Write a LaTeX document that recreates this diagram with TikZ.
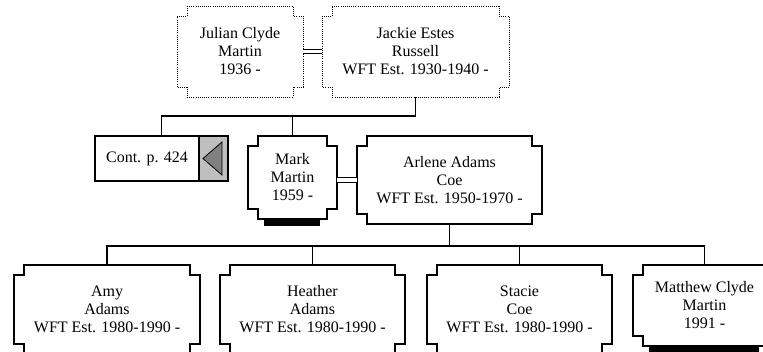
\documentclass[tikz,border=0pt]{standalone}
\usepackage{fontspec}
\setmainfont{Liberation Serif}
\usetikzlibrary{positioning,calc}
\tikzset{
  person/.style 2 args={minimum width=#1*0.75pt,minimum height=#2*0.75pt,inner sep=0pt,outer sep=0pt,align=center},
  outline/.style={line width=1.4pt},
  ghost/.style={line width=0.6pt,densely dotted},
  wed/.style={double,double distance=2.6pt,line width=0.6pt},
  kin/.style={line width=1.4pt},
}
% frame with cut-in corners round a named node
\newcommand\famframe[2]{\draw[#1] let \p1=(#2.north west),\p2=(#2.south east) in
  (\x1+7.5pt,\y1) -- (\x2-7.5pt,\y1) -- (\x2-7.5pt,\y1-7.5pt) -- (\x2,\y1-7.5pt) -- (\x2,\y2+7.5pt)
  -- (\x2-7.5pt,\y2+7.5pt) -- (\x2-7.5pt,\y2) -- (\x1+7.5pt,\y2) -- (\x1+7.5pt,\y2+7.5pt)
  -- (\x1,\y2+7.5pt) -- (\x1,\y1-7.5pt) -- (\x1+7.5pt,\y1-7.5pt) -- cycle;}

\begin{document}
\begin{tikzpicture}[x=0.75pt,y=-0.75pt,font=\fontsize{12}{13.5}\selectfont]
	\useasboundingbox (0,0) rectangle (763,352);
	% parents
	\node[person={126}{91}] (julian) at (240,51.5) {Julian Clyde\\Martin\\1936 -};
	\node[person={187}{91}] (jackie) at (415.5,51.5) {Jackie Estes\\Russell\\WFT Est. 1930-1940 -};
	% middle row
	\node[person={104}{45},draw,outline] (cont) at (147,158.5) {Cont. p. 424};
	\node[person={29}{45},draw,outline,fill=gray!50,right=0pt of cont] (contarr) {};
	\node[person={89}{83}] (mark) at (292.5,177.5) {Mark\\Martin\\1959 -};
	\node[person={185}{88}] (arlene) at (449.5,180) {Arlene Adams\\Coe\\WFT Est. 1950-1970 -};
	% children
	\node[person={186}{89}] (amy) at (107,309.5) {Amy\\Adams\\WFT Est. 1980-1990 -};
	\node[person={185}{89}] (heather) at (312.5,309.5) {Heather\\Adams\\WFT Est. 1980-1990 -};
	\node[person={185}{89}] (stacie) at (519.5,309.5) {Stacie\\Coe\\WFT Est. 1980-1990 -};
	\node[person={143}{81}] (matthew) at (704.5,305.5) {Matthew Clyde\\Martin\\1991 -};
	\foreach \who in {julian,jackie} \famframe{ghost}{\who};
	\foreach \who in {mark,arlene,amy,heather,stacie,matthew} \famframe{outline}{\who};
	\foreach \who in {mark,matthew} \fill ([xshift=12pt]\who.south west) rectangle ([xshift=-13pt,yshift=-5.25pt]\who.south east);
	\draw[line width=0.6pt,fill=gray] ([xshift=-7.9pt]contarr.center) -- ([xshift=6.4pt,yshift=12.4pt]contarr.center) -- ([xshift=6.4pt,yshift=-12.4pt]contarr.center) -- cycle;
	% marriages
	\draw[wed] (julian.east) -- (jackie.west);
	\draw[wed] (arlene.west -| mark.east) -- (arlene.west);
	% descent
	\path (jackie.south) ++(0,19) coordinate (bus1);
	\coordinate (conttop) at ($(cont.north west)!.5!(contarr.north east)$);
	\draw[kin] (jackie.south) -- (bus1) -| (conttop);
	\draw[kin] (bus1) -| (mark.north);
	\path (arlene.south) ++(0,22) coordinate (bus2);
	\draw[kin] (arlene.south) -- (bus2);
	\foreach \who in {amy,heather,stacie,matthew} \draw[kin] (bus2) -| (\who.north);
\end{tikzpicture}
\end{document}
